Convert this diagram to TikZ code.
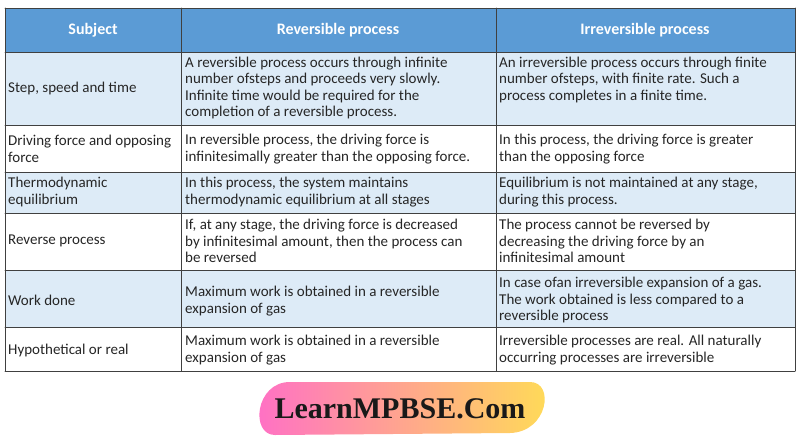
\documentclass[tikz,border=0pt]{standalone}
\usepackage{fontspec}
\setmainfont{Carlito}
\newfontfamily\logofont{Liberation Serif}
\usetikzlibrary{positioning}
\definecolor{headblue}{HTML}{5B9BD5}
\definecolor{rowblue}{HTML}{DDEBF7}
\definecolor{logopink}{HTML}{FF6EC7}
\definecolor{logoyellow}{HTML}{FFDD55}
\tikzset{
  cell/.style={anchor=west,align=left,inner sep=0pt,font=\fontsize{15}{16.5}\selectfont,text=black!85},
  headcell/.style={anchor=center,inner sep=0pt,font=\fontsize{16}{18}\selectfont\bfseries,text=white}
}
\begin{document}
\begin{tikzpicture}[x=1pt,y=-1pt,line cap=round,line join=round]
\useasboundingbox (0,0) rectangle (800,441);
\fill[white] (0,0) rectangle (800,441);
% row backgrounds
\fill[headblue] (5,8) rectangle (795,52);
\fill[rowblue] (5,52) rectangle (795,125);
\fill[rowblue] (5,172) rectangle (795,213);
\fill[rowblue] (5,270) rectangle (795,327);
% grid
\foreach \y in {8,52,125,172,213,270,327,371}
  \draw[black!75,line width=0.6pt] (5,\y) -- (795,\y);
\foreach \x in {5,181,496,795}
  \draw[black!75,line width=0.6pt] (\x,8) -- (\x,371);
% header
\node[headcell] (hsub) at (93,30) {Subject};
\node[headcell] (hrev) at (338,30) {Reversible process};
\node[headcell] (hirr) at (645,30) {Irreversible process};
% row 1
\node[cell] (s1) at (8,89) {Step, speed and time};
\node[cell] (r1) at (185,88) {A reversible process occurs through infinite\\number ofsteps and proceeds very slowly.\\Infinite time would be required for the\\completion of a reversible process.};
\node[cell] (i1) at (499,80) {An irreversible process occurs through finite\\number ofsteps, with finite rate. Such a\\process completes in a finite time.};
% row 2
\node[cell] (s2) at (8,149) {Driving force and opposing\\force};
\node[cell] (r2) at (185,149) {In reversible process, the driving force is\\infinitesimally greater than the opposing force.};
\node[cell] (i2) at (499,149) {In this process, the driving force is greater\\than the opposing force};
% row 3
\node[cell] (s3) at (8,192) {Thermodynamic\\equilibrium};
\node[cell] (r3) at (185,192) {In this process, the system maintains\\thermodynamic equilibrium at all stages};
\node[cell] (i3) at (499,192) {Equilibrium is not maintained at any stage,\\during this process.};
% row 4
\node[cell] (s4) at (8,241) {Reverse process};
\node[cell] (r4) at (185,241) {If, at any stage, the driving force is decreased\\by infinitesimal amount, then the process can\\be reversed};
\node[cell] (i4) at (499,241) {The process cannot be reversed by\\decreasing the driving force by an\\infinitesimal amount};
% row 5
\node[cell] (s5) at (8,300) {Work done};
\node[cell] (r5) at (185,301) {Maximum work is obtained in a reversible\\expansion of gas};
\node[cell] (i5) at (499,300) {In case ofan irreversible expansion of a gas.\\The work obtained is less compared to a\\reversible process};
% row 6
\node[cell] (s6) at (8,350) {Hypothetical or real};
\node[cell] (r6) at (185,350) {Maximum work is obtained in a reversible\\expansion of gas};
\node[cell] (i6) at (499,350) {Irreversible processes are real. All naturally\\occurring processes are irreversible};
% logo
\shade[left color=logopink,right color=logoyellow]
  (290,382) -- (530,382) .. controls (555,382) and (548,432) .. (510,433)
  -- (275,435) .. controls (250,435) and (255,382) .. (290,382) -- cycle;
\node[font=\logofont\bfseries\fontsize{30}{32}\selectfont,text=black!90] (logo) at (400,409) {LearnMPBSE.Com};
\end{tikzpicture}
\end{document}
